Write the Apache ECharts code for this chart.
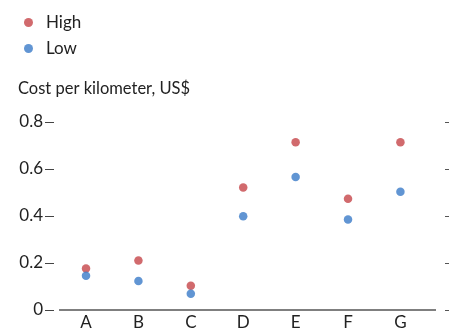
<!DOCTYPE html>
<html><head><meta charset="utf-8">
<script src="https://cdn.jsdelivr.net/npm/echarts@6/dist/echarts.min.js"></script>
<style>html,body{margin:0;padding:0;background:#fff}#c{width:449px;height:335px}</style>
</head><body><div id="c"></div>
<script>
const categories = ['A','B','C','D','E','F','G'];
const highValues = [0.177, 0.211, 0.103, 0.521, 0.714, 0.473, 0.714];
const lowValues  = [0.146, 0.123, 0.069, 0.399, 0.566, 0.385, 0.503];
const yTicks = [0, 0.2, 0.4, 0.6, 0.8];
const titleText = 'Cost per kilometer, US$';

const FONT = 'Lato';
const chart = echarts.init(document.getElementById('c'), null, {renderer:'canvas'});
chart.setOption({
  animation:false,
  textStyle:{fontFamily:FONT},
  title:{text:titleText,left:13,top:75,textStyle:{fontFamily:FONT,fontSize:16.5,fontWeight:'normal',color:'#222'}},
  legend:{orient:'vertical',left:19,top:8,icon:'circle',itemWidth:9,itemHeight:9,itemGap:7,
    data:['High','Low'],
    textStyle:{fontFamily:FONT,fontSize:17,color:'#222',padding:[0,0,0,8],lineHeight:19}},
  grid:{left:54,right:13,top:122,bottom:25},
  xAxis:{type:'value',min:-0.611,max:6.679,
    axisLine:{show:false},
    axisTick:{show:false},splitLine:{show:false},
    axisLabel:{customValues:categories.map((c,i)=>i),formatter:v=>categories[Math.round(v)],
      fontFamily:FONT,fontSize:17,color:'#222',margin:4}},
  yAxis:[
    {type:'value',min:0,max:0.8,interval:0.2,position:'left',
      axisLine:{show:false},splitLine:{show:false},axisTick:{show:false},
      axisLabel:{fontFamily:FONT,fontSize:17,color:'#222',margin:11,
        formatter:v=>v===0?'0':v.toFixed(1)}},
    {type:'value',min:0,max:0.8,interval:0.2,position:'left',offset:0,
      axisLine:{show:false},splitLine:{show:false},axisLabel:{show:false},
      axisTick:{show:true,inside:false,length:9,lineStyle:{color:'#444',width:1}}},
    {type:'value',min:0,max:0.8,interval:0.2,position:'right',offset:9,
      axisLine:{show:false},splitLine:{show:false},axisLabel:{show:false},
      axisTick:{show:true,length:4,lineStyle:{color:'#555',width:1}}}
  ],
  series:[
    {name:'High',type:'scatter',symbolSize:8.5,itemStyle:{color:'#c64548'},
      data:highValues.map((v,i)=>[i,v]),
      markLine:{silent:true,symbol:'none',label:{show:false},
        lineStyle:{color:'#555',width:1.5,type:'solid'},
        data:[[{coord:[-0.515,0]},{coord:[6.679,0]}]]}},
    {name:'Low',type:'scatter',symbolSize:8.5,itemStyle:{color:'#3a7bc8'},
      data:lowValues.map((v,i)=>[i,v])}
  ]
});
</script></body></html>
